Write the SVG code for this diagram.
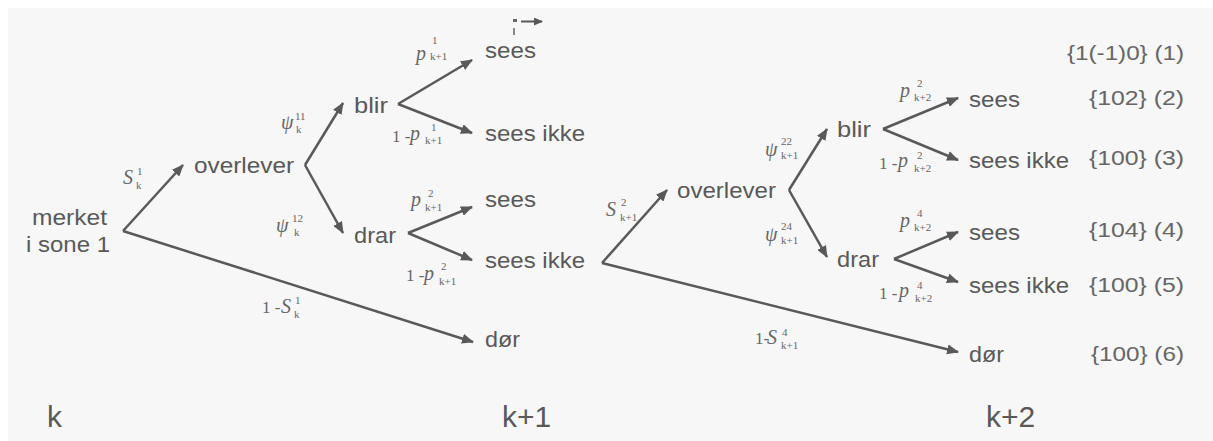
<svg xmlns="http://www.w3.org/2000/svg" width="1213" height="441" viewBox="0 0 1213 441">
<style>
.n{font-family:"Liberation Sans",Arial,sans-serif;font-size:22px;fill:#595959}
.r{font-family:"Liberation Sans",Arial,sans-serif;font-size:20px;fill:#666}
.b{font-family:"Liberation Sans",Arial,sans-serif;font-size:30px;fill:#595959}
.m{font-family:"Liberation Serif","Times New Roman",serif;font-size:20px;fill:#666}
.o{font-family:"Liberation Serif","Times New Roman",serif;font-size:17px;fill:#666}
.i{font-style:italic}
.s{font-family:"Liberation Serif","Times New Roman",serif;font-size:11px;fill:#666}
.c line{stroke:#595959;stroke-width:2.5;fill:none;marker-end:url(#ah)}
</style>
<defs>
<marker id="ah" markerUnits="userSpaceOnUse" markerWidth="12" markerHeight="10" refX="11" refY="5" orient="auto">
<path d="M0,0 L12,5 L0,10 z" fill="#595959"/>
</marker>
<marker id="ahs" markerUnits="userSpaceOnUse" markerWidth="9" markerHeight="8" refX="8" refY="4" orient="auto">
<path d="M0,0 L9,4 L0,8 z" fill="#595959"/>
</marker>
</defs>
<rect x="8" y="8" width="1205" height="433" fill="#f7f7f7"/>

<g id="stray">
<rect x="513" y="19" width="4" height="3" fill="#666"/>
<rect x="513" y="28" width="2" height="7" fill="#888"/>
<line x1="521" y1="21.5" x2="542" y2="21.5" stroke="#595959" stroke-width="2" marker-end="url(#ahs)"/>
</g>

<g id="connectors" class="c">
<line x1="123" y1="231" x2="183" y2="165"/>
<line x1="123" y1="231" x2="473" y2="342"/>
<line x1="305" y1="165" x2="343" y2="103"/>
<line x1="305" y1="165" x2="343" y2="233"/>
<line x1="398" y1="104" x2="472" y2="60"/>
<line x1="398" y1="104" x2="472" y2="133"/>
<line x1="408" y1="233" x2="472" y2="207"/>
<line x1="408" y1="233" x2="472" y2="260"/>
<line x1="602" y1="263" x2="667" y2="190"/>
<line x1="602" y1="263" x2="958" y2="352"/>
<line x1="789" y1="190" x2="827" y2="129"/>
<line x1="789" y1="190" x2="827" y2="257"/>
<line x1="883" y1="129" x2="958" y2="98"/>
<line x1="883" y1="129" x2="958" y2="160"/>
<line x1="894" y1="259" x2="958" y2="232"/>
<line x1="894" y1="259" x2="958" y2="282"/>
</g>

<g id="edge-labels">
<text class="m i" x="123" y="184">S</text><text class="s" x="137" y="175">1</text><text class="s" x="136" y="189">k</text>
<text class="o" x="262" y="313">1 -</text><text class="m i" x="281" y="313">S</text><text class="s" x="295" y="304">1</text><text class="s" x="294" y="318">k</text>
<text class="m i" x="281" y="129">ψ</text><text class="s" x="295" y="120">11</text><text class="s" x="296" y="133">k</text>
<text class="m i" x="276" y="232">ψ</text><text class="s" x="292" y="222">12</text><text class="s" x="294" y="236">k</text>
<text class="m i" x="416" y="60">p</text><text class="s" x="432" y="44">1</text><text class="s" x="430" y="60">k+1</text>
<text class="o" x="392" y="142">1 -</text><text class="m i" x="410" y="140">p</text><text class="s" x="431" y="131">1</text><text class="s" x="425" y="144">k+1</text>
<text class="m i" x="411" y="206">p</text><text class="s" x="428" y="197">2</text><text class="s" x="425" y="211">k+1</text>
<text class="o" x="406" y="281">1 -</text><text class="m i" x="424" y="280">p</text><text class="s" x="441" y="270">2</text><text class="s" x="439" y="285">k+1</text>
<text class="m i" x="606" y="216">S</text><text class="s" x="621" y="206">2</text><text class="s" x="620" y="221">k+1</text>
<text class="m i" x="765" y="156">ψ</text><text class="s" x="781" y="145">22</text><text class="s" x="781" y="159">k+1</text>
<text class="m i" x="765" y="241">ψ</text><text class="s" x="781" y="230">24</text><text class="s" x="781" y="244">k+1</text>
<text class="m i" x="900" y="97">p</text><text class="s" x="917" y="87">2</text><text class="s" x="914" y="101">k+2</text>
<text class="o" x="879" y="169">1 -</text><text class="m i" x="898" y="167">p</text><text class="s" x="917" y="159">2</text><text class="s" x="914" y="172">k+2</text>
<text class="m i" x="900" y="227">p</text><text class="s" x="917" y="217">4</text><text class="s" x="914" y="231">k+2</text>
<text class="o" x="879" y="299">1 -</text><text class="m i" x="899" y="297">p</text><text class="s" x="917" y="289">4</text><text class="s" x="915" y="302">k+2</text>
<text class="o" x="755" y="344" font-size="15">1-</text><text class="m i" x="767" y="344">S</text><text class="s" x="782" y="336">4</text><text class="s" x="781" y="349">k+1</text>
</g>

<g id="n-merket"><text class="n" x="32" y="225" textLength="75" lengthAdjust="spacingAndGlyphs">merket</text><text class="n" x="26" y="252" textLength="84" lengthAdjust="spacingAndGlyphs">i sone 1</text></g>
<g id="n-overlever1"><text class="n" x="194" y="173" textLength="100" lengthAdjust="spacingAndGlyphs">overlever</text></g>
<g id="n-blir1"><text class="n" x="354" y="113" textLength="34" lengthAdjust="spacingAndGlyphs">blir</text></g>
<g id="n-drar1"><text class="n" x="354" y="243" textLength="42" lengthAdjust="spacingAndGlyphs">drar</text></g>
<g id="n-sees1"><text class="n" x="485" y="58" textLength="51" lengthAdjust="spacingAndGlyphs">sees</text></g>
<g id="n-seesikke1"><text class="n" x="485" y="141" textLength="100" lengthAdjust="spacingAndGlyphs">sees ikke</text></g>
<g id="n-sees2"><text class="n" x="485" y="207" textLength="51" lengthAdjust="spacingAndGlyphs">sees</text></g>
<g id="n-seesikke2"><text class="n" x="485" y="268" textLength="100" lengthAdjust="spacingAndGlyphs">sees ikke</text></g>
<g id="n-dor1"><text class="n" x="485" y="347" textLength="35" lengthAdjust="spacingAndGlyphs">dør</text></g>
<g id="n-overlever2"><text class="n" x="677" y="198" textLength="99" lengthAdjust="spacingAndGlyphs">overlever</text></g>
<g id="n-blir2"><text class="n" x="837" y="137" textLength="34" lengthAdjust="spacingAndGlyphs">blir</text></g>
<g id="n-drar2"><text class="n" x="837" y="267" textLength="42" lengthAdjust="spacingAndGlyphs">drar</text></g>
<g id="n-sees3"><text class="n" x="969" y="107" textLength="51" lengthAdjust="spacingAndGlyphs">sees</text></g>
<g id="n-seesikke3"><text class="n" x="969" y="168" textLength="100" lengthAdjust="spacingAndGlyphs">sees ikke</text></g>
<g id="n-sees4"><text class="n" x="969" y="240" textLength="51" lengthAdjust="spacingAndGlyphs">sees</text></g>
<g id="n-seesikke4"><text class="n" x="969" y="293" textLength="100" lengthAdjust="spacingAndGlyphs">sees ikke</text></g>
<g id="n-dor2"><text class="n" x="969" y="362" textLength="35" lengthAdjust="spacingAndGlyphs">dør</text></g>

<g id="codes">
<text class="r" x="1067" y="60" textLength="117" lengthAdjust="spacingAndGlyphs">{1(-1)0} (1)</text>
<text class="r" x="1089" y="105" textLength="95" lengthAdjust="spacingAndGlyphs">{102} (2)</text>
<text class="r" x="1089" y="165" textLength="95" lengthAdjust="spacingAndGlyphs">{100} (3)</text>
<text class="r" x="1089" y="237" textLength="95" lengthAdjust="spacingAndGlyphs">{104} (4)</text>
<text class="r" x="1089" y="292" textLength="95" lengthAdjust="spacingAndGlyphs">{100} (5)</text>
<text class="r" x="1091" y="361" textLength="93" lengthAdjust="spacingAndGlyphs">{100} (6)</text>
</g>

<g id="axis">
<text class="b" x="47" y="427">k</text>
<text class="b" x="502" y="427">k+1</text>
<text class="b" x="986" y="427">k+2</text>
</g>
</svg>
